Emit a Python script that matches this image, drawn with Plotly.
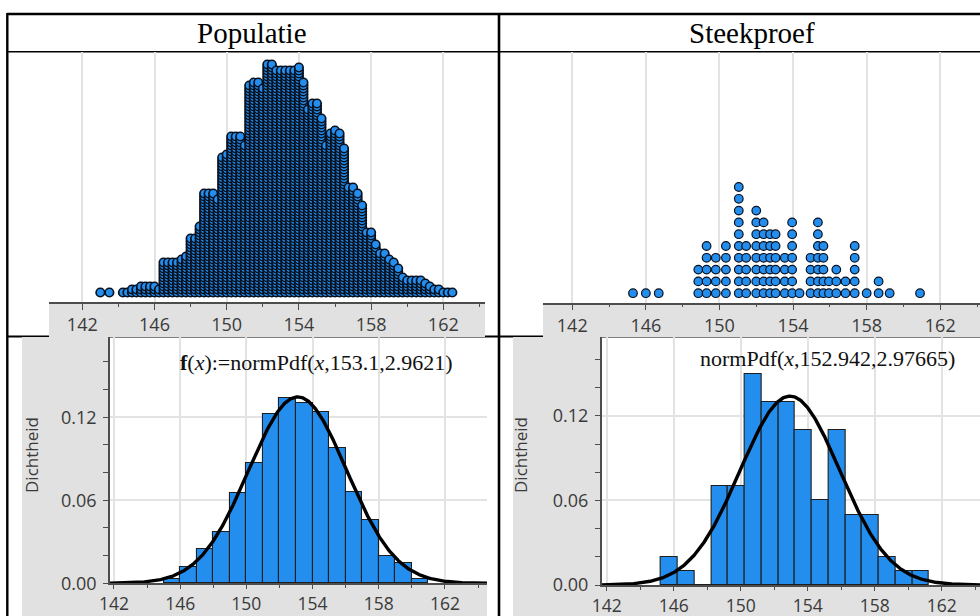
import numpy as np
import plotly.graph_objects as go

W, H = 980, 616

# ---------------- data ----------------
headers = ["Populatie", "Steekproef"]
x_tick_values = [142, 146, 150, 154, 158, 162]
x_minor_ticks = [144, 148, 152, 156, 160, 164]
y_tick_values = [0.00, 0.06, 0.12]
y_minor_ticks = [0.02, 0.04, 0.08, 0.10, 0.14, 0.16]
y_title = "Dichtheid"

# population dot plot: column value and number of stacked dots
pop_dot_values = [143.0, 143.5,
                  144.25, 144.5, 144.75, 145.0, 145.25, 145.5, 145.75, 146.0, 146.25,
                  146.5, 146.75, 147.0, 147.25, 147.5, 147.75,
                  148.0, 148.25, 148.5,
                  148.75, 149.0, 149.25, 149.5,
                  149.75, 150.0,
                  150.25, 150.5, 150.75, 151.0,
                  151.25, 151.5, 151.75, 152.0,
                  152.25, 152.5, 152.75, 153.0, 153.25, 153.5, 153.75, 154.0,
                  154.25, 154.5, 154.75, 155.0, 155.25,
                  155.5, 155.75, 156.0, 156.25, 156.5,
                  156.75, 157.0, 157.25, 157.5,
                  157.75, 158.0, 158.25, 158.5, 158.75, 159.0, 159.25, 159.5, 159.75,
                  160.0, 160.25, 160.5, 160.75,
                  161.0, 161.25, 161.5, 161.75,
                  162.0, 162.25, 162.5]
pop_dot_counts = [1, 1,
                  1, 1, 2, 2, 3, 3, 3, 3, 2,
                  11, 11, 11, 11, 12, 13,
                  19, 19, 23,
                  34, 34, 34, 32,
                  46, 47,
                  53, 53, 53, 50,
                  70, 71, 71, 69,
                  77, 77, 75, 75, 75, 75, 75, 76,
                  71, 62, 64, 64, 59,
                  50, 54, 55, 54, 49,
                  36, 36, 34, 30,
                  21, 21, 17, 14, 14, 12, 11, 9, 6,
                  5, 5, 5, 5,
                  4, 3, 2, 2,
                  1, 1, 1]

# sample dot plot
sample_dot_values = [145.3, 146.0, 146.7, 148.85, 149.3, 149.8, 150.35, 151.05, 151.45,
                     152.0, 152.4, 152.75, 153.05, 153.55, 153.95, 154.35, 154.95,
                     155.35, 155.65, 155.95, 156.35, 156.85, 157.35, 158.0, 158.65,
                     159.25, 160.9]
sample_dot_counts = [1, 1, 1, 3, 5, 4, 5, 10, 5,
                     8, 7, 6, 6, 4, 7, 1, 4,
                     7, 5, 2, 3, 2, 5, 1, 2,
                     1, 1]

# histograms (density, bin width 1)
pop_bin_starts = [145, 146, 147, 148, 149, 150, 151, 152, 153, 154, 155, 156, 157, 158, 159, 160]
pop_density = [0.003, 0.012, 0.025, 0.037, 0.065, 0.087, 0.122, 0.134,
               0.130, 0.124, 0.098, 0.066, 0.046, 0.020, 0.015, 0.003]
sample_bin_starts = [145.25, 146.25, 147.25, 148.25, 149.25, 150.25, 151.25, 152.25,
                     153.25, 154.25, 155.25, 156.25, 157.25, 158.25, 159.25, 160.25]
sample_density = [0.02, 0.01, 0.00, 0.07, 0.07, 0.15, 0.13, 0.13,
                  0.11, 0.06, 0.11, 0.05, 0.05, 0.02, 0.01, 0.01]

pop_mean, pop_sd = 153.1, 2.9621
sample_mean, sample_sd = 152.942, 2.97665
pop_formula = "<b>f</b>(<i>x</i>):=normPdf(<i>x</i>,153.1,2.9621)"
sample_formula = "normPdf(<i>x</i>,152.942,2.97665)"

# ---------------- styling ----------------
BLUE = "rgb(36,142,238)"
DOT_EDGE = "#08111f"
AXIS = "#4d4d4d"
GRID = "#e3e3e3"
GREY = "#e1e1e1"
TICKFONT = dict(family="Open Sans, sans-serif", size=18, color="#3a3a3a")
TICKFONT_BOTTOM = dict(family="Open Sans, sans-serif", size=17.5, color="#3a3a3a")
SERIF = "Liberation Serif, Times New Roman, serif"


def px(x):
    return x / W


def py(y):
    return 1 - y / H


def stack(values, counts, base, step):
    xs, ys = [], []
    for v, c in zip(values, counts):
        for k in range(c):
            xs.append(v)
            ys.append(base + k * step)
    return xs, ys


def normpdf(x, m, s):
    return np.exp(-0.5 * ((x - m) / s) ** 2) / (s * np.sqrt(2 * np.pi))


fig = go.Figure()

# top-left population dot plot (y in pixels above axis)
pxs, pys = stack(pop_dot_values, pop_dot_counts, 9.5, 3.0)
fig.add_trace(go.Scatter(x=pxs, y=pys, mode="markers", xaxis="x", yaxis="y",
                         marker=dict(size=8.5, color=BLUE, line=dict(color=DOT_EDGE, width=1.7)),
                         hoverinfo="skip"))
# top-right sample dot plot
sxs, sys_ = stack(sample_dot_values, sample_dot_counts, 9.3, 11.8)
fig.add_trace(go.Scatter(x=sxs, y=sys_, mode="markers", xaxis="x2", yaxis="y2",
                         marker=dict(size=8.6, color=BLUE, line=dict(color=DOT_EDGE, width=1.2)),
                         hoverinfo="skip"))

# bottom histograms
fig.add_trace(go.Bar(x=[b + 0.5 for b in pop_bin_starts], y=pop_density, width=1,
                     xaxis="x3", yaxis="y3",
                     marker=dict(color=BLUE, line=dict(color="#1e1e1e", width=1.1))))
fig.add_trace(go.Bar(x=[b + 0.5 for b in sample_bin_starts], y=sample_density, width=1,
                     xaxis="x4", yaxis="y4",
                     marker=dict(color=BLUE, line=dict(color="#1e1e1e", width=1.1))))

r3 = [141.76, 164.54]
r4 = [141.70, 164.29]
xc3 = np.linspace(r3[0], r3[1], 500)
xc4 = np.linspace(r4[0], r4[1], 500)
fig.add_trace(go.Scatter(x=xc3, y=normpdf(xc3, pop_mean, pop_sd), mode="lines",
                         xaxis="x3", yaxis="y3", line=dict(color="black", width=3.4),
                         cliponaxis=False))
fig.add_trace(go.Scatter(x=xc4, y=normpdf(xc4, sample_mean, sample_sd), mode="lines",
                         xaxis="x4", yaxis="y4", line=dict(color="black", width=3.4),
                         cliponaxis=False))


def xaxis_cfg(domain, rng, anchor, ticklen=6, font=TICKFONT):
    return dict(domain=domain, range=rng, anchor=anchor,
                tickmode="array", tickvals=x_tick_values,
                ticktext=[str(v) for v in x_tick_values],
                ticks="outside", ticklen=ticklen, tickwidth=1.3, tickcolor=AXIS,
                showline=True, linecolor=AXIS, linewidth=1.6,
                showgrid=True, gridcolor=GRID, gridwidth=2,
                zeroline=False, tickfont=font, ticklabelstandoff=0,
                minor=dict(tickmode="array", tickvals=x_minor_ticks, ticks="outside",
                           ticklen=3, tickwidth=1.3, tickcolor=AXIS, showgrid=False),
                automargin=False, fixedrange=True)


def yhist_cfg(domain, rng, anchor):
    return dict(domain=domain, range=rng, anchor=anchor,
                tickmode="array", tickvals=y_tick_values,
                ticktext=[f"{v:.2f}" for v in y_tick_values],
                ticks="outside", ticklen=5, tickwidth=1.3, tickcolor=AXIS,
                showline=True, linecolor=AXIS, linewidth=1.6,
                showgrid=True, gridcolor=GRID, gridwidth=1.6,
                zeroline=False, tickfont=TICKFONT, ticklabelstandoff=3,
                minor=dict(tickmode="array", tickvals=y_minor_ticks, ticks="outside",
                           ticklen=5, tickwidth=1.3, tickcolor=AXIS, showgrid=False),
                automargin=False, fixedrange=True)


layout = dict(
    width=W, height=H, margin=dict(l=0, r=0, t=0, b=0, pad=0, autoexpand=False),
    paper_bgcolor="white", plot_bgcolor="rgba(0,0,0,0)",
    showlegend=False, bargap=0,
    xaxis=xaxis_cfg([px(49), px(485)], [140.155, 164.31], "y"),
    yaxis=dict(domain=[py(302), py(52)], range=[0, 250], visible=False, fixedrange=True),
    xaxis2=xaxis_cfg([px(543), 1.0], [140.41, 164.16], "y2"),
    yaxis2=dict(domain=[py(302.5), py(52)], range=[0, 250.5], visible=False, fixedrange=True),
    xaxis3=xaxis_cfg([px(110), px(487)], r3, "y3", ticklen=4, font=TICKFONT_BOTTOM),
    yaxis3=yhist_cfg([py(583.3), py(337)], [0, 0.178], "x3"),
    xaxis4=xaxis_cfg([px(601.7), 1.0], r4, "y4", ticklen=4, font=TICKFONT_BOTTOM),
    yaxis4=yhist_cfg([py(585), py(337)], [0, 0.176], "x4"),
)
fig.update_layout(**layout)

shapes = []


def line(x0, y0, x1, y1, w):
    shapes.append(dict(type="line", xref="paper", yref="paper", layer="below",
                       x0=px(x0), y0=py(y0), x1=px(x1), y1=py(y1),
                       line=dict(color="black", width=w)))


def rect(x0, y0, x1, y1):
    shapes.append(dict(type="rect", xref="paper", yref="paper", layer="below",
                       x0=px(x0), y0=py(y0), x1=px(x1), y1=py(y1),
                       fillcolor=GREY, line=dict(width=0)))


line(7, 336.5, 980, 336.5, 2)
rect(49, 302, 485, 337)
rect(543, 303, 980, 337)
rect(22, 337, 110, 616)
rect(22, 583, 487, 616)
rect(513, 337, 601.7, 616)
rect(513, 585, 980, 616)
line(7, 14, 980, 14, 2.6)
line(7, 51.7, 980, 51.7, 1.6)
line(7.3, 13, 7.3, 616, 2.4)
line(499, 13, 499, 616, 2.6)
fig.update_layout(shapes=shapes)

ann = []
ann.append(dict(text=headers[0], x=px(252.5), y=py(33), xref="paper", yref="paper",
                showarrow=False, xanchor="center", yanchor="middle",
                font=dict(family=SERIF, size=29, color="black")))
ann.append(dict(text=headers[1], x=px(752), y=py(33), xref="paper", yref="paper",
                showarrow=False, xanchor="center", yanchor="middle",
                font=dict(family=SERIF, size=29, color="black")))
ann.append(dict(text=pop_formula, x=px(316), y=py(362), xref="paper", yref="paper",
                showarrow=False, xanchor="center", yanchor="middle",
                font=dict(family=SERIF, size=22, color="#111111")))
ann.append(dict(text=sample_formula, x=px(827.5), y=py(358), xref="paper", yref="paper",
                showarrow=False, xanchor="center", yanchor="middle",
                font=dict(family=SERIF, size=22, color="#111111")))
for xc in (31, 520):
    ann.append(dict(text=y_title, x=px(xc), y=py(455), xref="paper", yref="paper",
                    showarrow=False, xanchor="center", yanchor="middle", textangle=-90,
                    font=dict(family="Open Sans, sans-serif", size=17, color="#3a3a3a")))
fig.update_layout(annotations=ann)

fig.write_html(
    "out.html",
    config={"displayModeBar": False, "responsive": False},
    post_script=(
        "document.documentElement.style.margin='0px';"
        "document.documentElement.style.overflow='hidden';"
        "document.body.style.margin='0px';document.body.style.padding='0px';"
        "document.body.style.overflow='hidden';"
        "var d=document.getElementById('{plot_id}');"
        "d.style.position='absolute';d.style.left='0px';d.style.top='0px';"
    ),
)
